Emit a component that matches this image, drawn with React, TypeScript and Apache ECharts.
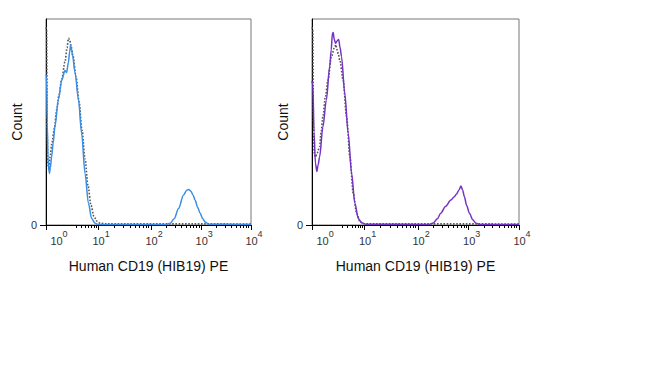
import React, { useEffect, useRef } from "react";
import * as echarts from "echarts";

// Channel scale (0..1024, display channels of a logicle axis)
const decadeChannels = [50, 260, 525, 775, 1024]; // positions of 10^0 .. 10^4
const decadeExponents = ["0", "1", "2", "3", "4"];
const majorTickChannels = [0, 260, 525, 775, 1024];
const yLabelValues = [0];

const xTitle = "Human CD19 (HIB19) PE";
const yTitle = "Count";

// Left panel: CD19 stained (blue) and isotype/unstained (dotted)
const leftStained: [number, number][] = [
  [0, 73], [3, 72], [6, 50], [10, 32], [17, 25], [22, 28], [28, 33], [36, 40], [45, 48],
  [62, 61], [78, 70], [95, 75], [103, 74], [112, 79], [118, 84], [123, 87.5], [128, 85],
  [133, 82], [145, 74], [162, 61], [178, 44.5], [195, 25], [212, 10.5], [228, 3.2],
  [245, 0.8], [260, 0.3], [400, 0.3], [600, 0.3], [620, 0.8], [640, 3], [662, 8],
  [687, 14.6], [703, 16.9], [713, 17.2], [723, 16.5], [735, 14.5], [745, 12], [758, 8.5],
  [770, 5.7], [783, 3], [795, 1.5], [812, 0.4], [1024, 0.3],
];
const leftControl: [number, number][] = [
  [0, 96], [3, 95], [6, 45], [9, 30], [14, 27], [20, 33], [30, 40], [42, 47], [53, 55.8],
  [65, 63], [78, 70.4], [95, 79.3], [105, 86], [112, 90.6], [118, 90], [125, 87], [135, 82],
  [150, 72], [165, 60], [180, 46], [195, 32], [210, 19], [225, 9.5], [240, 4], [255, 1.8],
  [270, 0.9], [300, 0.6], [1024, 0.5],
];

// Right panel: CD19 stained (purple) and control (dotted)
const rightStained: [number, number][] = [
  [0, 70], [4, 68], [10, 45], [17, 30], [24, 26], [30, 29], [37.5, 33], [54, 47.7], [71, 60.7],
  [87.5, 76.9], [95, 85], [101, 93], [105, 93.5], [110, 90], [117, 88.2], [125, 89.5],
  [132, 90.1], [139, 86], [146, 81.7], [162, 64], [179, 44.5], [196, 25], [212, 10.5],
  [229, 3.2], [246, 1.1], [265, 0.4], [580, 0.3], [600, 1], [620, 3], [637, 5.7], [660, 9],
  [687, 12.1], [704, 13.7], [715, 15], [727, 17], [737, 18.9], [745, 17], [754, 13.7],
  [765, 9.5], [779, 5.7], [795, 2.5], [812, 0.8], [830, 0.3], [1024, 0.3],
];
const rightControl: [number, number][] = [
  [0, 96], [4, 95], [7, 50], [11, 35], [17, 33], [26, 35], [37.5, 38], [45, 45], [54, 52.6],
  [66, 62], [79, 70.4], [96, 81.7], [112.5, 86.6], [118, 87.5], [124, 85], [130, 83],
  [137.5, 80], [154, 70.4], [171, 52.6], [187.5, 33], [204, 15.4], [221, 5.7], [237.5, 1.6],
  [254, 0.6], [1024, 0.5],
];

const BLUE = "#3a8ee3";
const PURPLE = "#7433c4";
const FONT = "Liberation Sans, Arial, sans-serif";

function minorTicks(): number[] {
  const out: number[] = [];
  for (let d = 0; d < decadeChannels.length - 1; d++) {
    const a = decadeChannels[d];
    const b = decadeChannels[d + 1];
    for (let k = d === 0 ? 3 : 2; k <= 9; k++) out.push(a + Math.log10(k) * (b - a));
  }
  return out;
}

export default function App() {
  const ref = useRef<HTMLDivElement>(null);
  useEffect(() => {
    if (!ref.current) return;
    const chart = echarts.init(ref.current, null, { renderer: "svg" });
    const minors = minorTicks();
    const grids = [
      { left: 46, top: 19, width: 205, height: 206 },
      { left: 312, top: 19, width: 207, height: 206 },
    ];
    const xAxes: any[] = [];
    const yAxes: any[] = [];
    grids.forEach((_, gi) => {
      xAxes.push({
        gridIndex: gi,
        type: "value",
        position: "bottom",
        min: 0,
        max: 1024,
        name: xTitle,
        nameLocation: "middle",
        nameGap: 34,
        nameTextStyle: { fontSize: 14, color: "#111", fontFamily: FONT },
        axisLine: { show: true, lineStyle: { color: "#000", width: 1 } },
        axisTick: { show: true, customValues: majorTickChannels, length: 5, lineStyle: { color: "#000" } },
        axisLabel: {
          show: true,
          customValues: decadeChannels,
          margin: 4,
          hideOverlap: false,
          formatter: (v: number) => {
            const i = decadeChannels.indexOf(v);
            return `{p|}{b|10}{s|${decadeExponents[i]}}`;
          },
          rich: {
            p: { width: 6 },
            b: { fontSize: 11, lineHeight: 17, verticalAlign: "bottom", color: "#333", fontFamily: FONT },
            s: { fontSize: 9, lineHeight: 17, verticalAlign: "top", color: "#333", fontFamily: FONT },
          },
        },
        splitLine: { show: false },
      });
      xAxes.push({
        gridIndex: gi,
        type: "value",
        position: "bottom",
        min: 0,
        max: 1024,
        axisLine: { show: false },
        axisTick: { show: true, customValues: minors, length: 3, lineStyle: { color: "#000" } },
        axisLabel: { show: false },
        splitLine: { show: false },
      });
      yAxes.push({
        gridIndex: gi,
        type: "value",
        min: 0,
        max: 100,
        name: yTitle,
        nameLocation: "middle",
        nameGap: 22,
        nameTextStyle: { fontSize: 14, color: "#111", fontFamily: FONT },
        axisLine: { show: true, lineStyle: { color: "#000", width: 1 } },
        axisTick: { show: true, customValues: yLabelValues, length: 6, lineStyle: { color: "#000" } },
        axisLabel: {
          show: true,
          customValues: yLabelValues,
          margin: 9,
          fontSize: 11,
          color: "#333",
          fontFamily: FONT,
          padding: [0, 0, 5, 0],
        },
        splitLine: { show: false },
      });
    });
    const lineSeries = (data: [number, number][], gi: number, color: string, dotted: boolean) => ({
      type: "line",
      xAxisIndex: gi * 2,
      yAxisIndex: gi,
      data,
      showSymbol: false,
      smooth: 0.3,
      smoothMonotone: "x",
      clip: true,
      lineStyle: dotted
        ? { color: "#555", width: 1.6, type: "dotted" }
        : { color, width: 1.5 },
      z: dotted ? 2 : 3,
    });
    chart.setOption({
      animation: false,
      backgroundColor: "#fff",
      grid: grids.map((g) => ({ ...g, show: true, borderColor: "#777", borderWidth: 1, containLabel: false })),
      xAxis: xAxes,
      yAxis: yAxes,
      series: [
        lineSeries(leftControl, 0, "#555", true),
        lineSeries(leftStained, 0, BLUE, false),
        lineSeries(rightControl, 1, "#555", true),
        lineSeries(rightStained, 1, PURPLE, false),
      ],
    });
    return () => chart.dispose();
  }, []);
  return (
    <div
      ref={ref}
      style={{ position: "absolute", left: 0, top: 0, width: 650, height: 371, background: "#fff" }}
    />
  );
}
